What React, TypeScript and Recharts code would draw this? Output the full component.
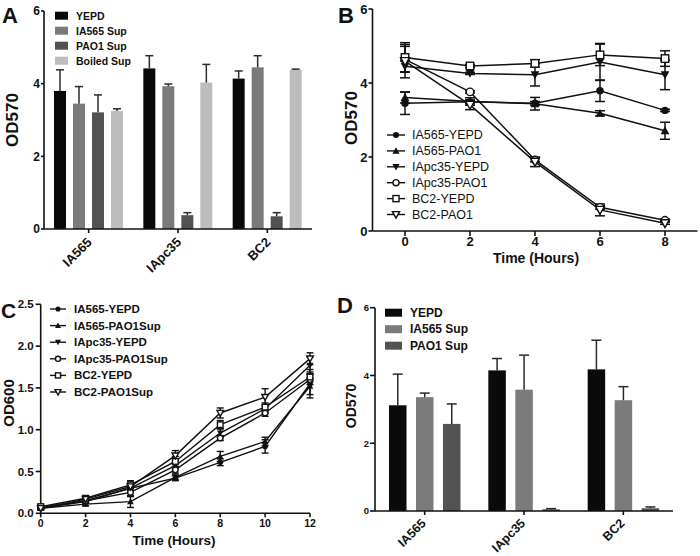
import React from 'react';
import { BarChart, Bar, XAxis, YAxis, LineChart, Line, ErrorBar } from 'recharts';

const FONT = '"Liberation Sans", Arial, Helvetica, sans-serif';
const INK = '#111';

// ---------- Panel A ----------
const groupsA = ['IA565', 'IApc35', 'BC2'];
const seriesA = ['YEPD', 'IA565 Sup', 'PAO1 Sup', 'Boiled Sup'];
const colorsA = ['#0a0a0a', '#7b7b7b', '#525252', '#bdbdbd'];
const yepdA = [3.8, 4.42, 4.14];
const yepdErrA = [0.58, 0.35, 0.21];
const ia565SupA = [3.45, 3.93, 4.45];
const ia565SupErrA = [0.47, 0.06, 0.32];
const pao1SupA = [3.21, 0.38, 0.35];
const pao1SupErrA = [0.48, 0.07, 0.1];
const boiledSupA = [3.25, 4.03, 4.38];
const boiledSupErrA = [0.06, 0.5, 0.02];
const yTicksA = [0, 2, 4, 6];

// ---------- Panel B ----------
const timesB = [0, 2, 4, 6, 8];
const seriesB = ['IA565-YEPD', 'IA565-PAO1', 'IApc35-YEPD', 'IApc35-PAO1', 'BC2-YEPD', 'BC2-PAO1'];
const ia565YepdB = [3.45, 3.49, 3.45, 3.79, 3.26];
const ia565YepdErrB = [0.3, 0.05, 0.05, 0.29, 0.03];
const ia565Pao1B = [3.61, 3.5, 3.44, 3.18, 2.71];
const ia565Pao1ErrB = [0.15, 0.1, 0.17, 0.07, 0.23];
const iapc35YepdB = [4.45, 4.26, 4.22, 4.57, 4.22];
const iapc35YepdErrB = [0.15, 0.03, 0.3, 0.5, 0.4];
const iapc35Pao1B = [4.64, 3.76, 1.92, 0.64, 0.29];
const iapc35Pao1ErrB = [0.35, 0.03, 0.05, 0.05, 0.03];
const bc2YepdB = [4.69, 4.46, 4.53, 4.76, 4.66];
const bc2YepdErrB = [0.4, 0.04, 0.1, 0.29, 0.21];
const bc2Pao1B = [4.59, 3.41, 1.87, 0.57, 0.21];
const bc2Pao1ErrB = [0.45, 0.13, 0.13, 0.16, 0.03];
const xTicksB = [0, 2, 4, 6, 8];
const yTicksB = [0, 2, 4, 6];

// ---------- Panel C ----------
const timesC = [0, 2, 4, 6, 8, 10, 12];
const seriesC = ['IA565-YEPD', 'IA565-PAO1Sup', 'IApc35-YEPD', 'IApc35-PAO1Sup', 'BC2-YEPD', 'BC2-PAO1Sup'];
const ia565YepdC = [0.07, 0.15, 0.3, 0.42, 0.61, 0.8, 1.55];
const ia565YepdErrC = [0.02, 0.02, 0.03, 0.03, 0.04, 0.08, 0.17];
const ia565Pao1C = [0.06, 0.11, 0.14, 0.43, 0.68, 0.86, 1.52];
const ia565Pao1ErrC = [0.02, 0.02, 0.07, 0.03, 0.06, 0.05, 0.1];
const iapc35YepdC = [0.06, 0.14, 0.3, 0.57, 0.96, 1.25, 1.77];
const iapc35YepdErrC = [0.01, 0.02, 0.03, 0.04, 0.05, 0.05, 0.1];
const iapc35Pao1C = [0.07, 0.15, 0.25, 0.52, 0.9, 1.2, 1.6];
const iapc35Pao1ErrC = [0.02, 0.03, 0.05, 0.04, 0.03, 0.04, 0.06];
const bc2YepdC = [0.08, 0.18, 0.34, 0.62, 1.06, 1.27, 1.63];
const bc2YepdErrC = [0.02, 0.03, 0.05, 0.06, 0.05, 0.05, 0.06];
const bc2Pao1C = [0.06, 0.17, 0.32, 0.69, 1.2, 1.39, 1.85];
const bc2Pao1ErrC = [0.02, 0.02, 0.05, 0.06, 0.06, 0.1, 0.07];
const xTicksC = [0, 2, 4, 6, 8, 10, 12];
const yTicksC = [0, 0.5, 1, 1.5, 2, 2.5];

// ---------- Panel D ----------
const groupsD = ['IA565', 'IApc35', 'BC2'];
const seriesD = ['YEPD', 'IA565 Sup', 'PAO1 Sup'];
const colorsD = ['#0a0a0a', '#7b7b7b', '#525252'];
const yepdD = [3.12, 4.15, 4.18];
const yepdErrD = [0.92, 0.35, 0.86];
const ia565SupD = [3.36, 3.58, 3.27];
const ia565SupErrD = [0.12, 1.02, 0.4];
const pao1SupD = [2.57, 0.05, 0.08];
const pao1SupErrD = [0.59, 0.02, 0.04];
const yTicksD = [0, 2, 4, 6];

const markerTypes = ['filledCircle', 'filledUp', 'filledDown', 'openCircle', 'openSquare', 'openDown'];

// ---------- data tables ----------
const rowsA = groupsA.map((g, i) => ({
  name: g,
  s0: yepdA[i], e0: yepdErrA[i],
  s1: ia565SupA[i], e1: ia565SupErrA[i],
  s2: pao1SupA[i], e2: pao1SupErrA[i],
  s3: boiledSupA[i], e3: boiledSupErrA[i],
}));
const valsB = [ia565YepdB, ia565Pao1B, iapc35YepdB, iapc35Pao1B, bc2YepdB, bc2Pao1B];
const errsB = [ia565YepdErrB, ia565Pao1ErrB, iapc35YepdErrB, iapc35Pao1ErrB, bc2YepdErrB, bc2Pao1ErrB];
const rowsB = timesB.map((t, i) => {
  const r: any = { t };
  valsB.forEach((v, k) => { r['s' + k] = v[i]; r['e' + k] = errsB[k][i]; });
  return r;
});
const valsC = [ia565YepdC, ia565Pao1C, iapc35YepdC, iapc35Pao1C, bc2YepdC, bc2Pao1C];
const errsC = [ia565YepdErrC, ia565Pao1ErrC, iapc35YepdErrC, iapc35Pao1ErrC, bc2YepdErrC, bc2Pao1ErrC];
const rowsC = timesC.map((t, i) => {
  const r: any = { t };
  valsC.forEach((v, k) => { r['s' + k] = v[i]; r['e' + k] = errsC[k][i]; });
  return r;
});
const rowsD = groupsD.map((g, i) => ({
  name: g,
  s0: yepdD[i], e0: yepdErrD[i],
  s1: ia565SupD[i], e1: ia565SupErrD[i],
  s2: pao1SupD[i], e2: pao1SupErrD[i],
}));

// ---------- helpers ----------
const makeErrShape = (errKey: string, capHalf: number) => (props: any) => {
  const { x, y, width, height, fill, payload, value } = props;
  const v = Array.isArray(value) ? value[1] - value[0] : value;
  const k = v ? height / v : 0;
  const e = payload ? payload[errKey] : 0;
  const cx = x + width / 2;
  const yt = y - e * k;
  return (
    <g>
      <rect x={x} y={y} width={width} height={height} fill={fill} />
      <line x1={cx} x2={cx} y1={y} y2={yt} stroke="#2b2b2b" strokeWidth={1.5} />
      <line x1={cx - capHalf} x2={cx + capHalf} y1={yt} y2={yt} stroke="#2b2b2b" strokeWidth={1.5} />
    </g>
  );
};

const Marker = ({ type, cx, cy, r }: { type: string; cx: number; cy: number; r: number }) => {
  const sw = 1.4;
  const up = `${cx},${cy - r} ${cx - r},${cy + r * 0.8} ${cx + r},${cy + r * 0.8}`;
  const down = `${cx},${cy + r} ${cx - r},${cy - r * 0.8} ${cx + r},${cy - r * 0.8}`;
  switch (type) {
    case 'filledCircle':
      return <circle cx={cx} cy={cy} r={r * 0.85} fill={INK} />;
    case 'filledUp':
      return <polygon points={up} fill={INK} />;
    case 'filledDown':
      return <polygon points={down} fill={INK} />;
    case 'openCircle':
      return <circle cx={cx} cy={cy} r={r * 0.85} fill="#fff" stroke={INK} strokeWidth={sw} />;
    case 'openSquare':
      return <rect x={cx - r * 0.85} y={cy - r * 0.85} width={r * 1.7} height={r * 1.7} fill="#fff" stroke={INK} strokeWidth={sw} />;
    case 'openDown':
      return <polygon points={down} fill="#fff" stroke={INK} strokeWidth={sw} />;
    default:
      return null;
  }
};

const makeDot = (type: string, r: number) => (p: any) => (
  <g key={`d-${type}-${p.index}`}>
    <Marker type={type} cx={p.cx} cy={p.cy} r={r} />
  </g>
);

const RotTick = (fontSize: number, dx: number, dy: number) => (props: any) => {
  const { x, y, payload } = props;
  const px = x + dx;
  const py = y + dy;
  return (
    <text x={px} y={py} transform={`rotate(-45 ${px} ${py})`} textAnchor="end" fill={INK}
      fontSize={fontSize} fontWeight="bold" fontFamily={FONT}>
      {payload.value}
    </text>
  );
};

const axisLine = { stroke: INK, strokeWidth: 1.6 };
const tickStyle = (fs: number) => ({ fill: INK, fontSize: fs, fontWeight: 'bold', fontFamily: FONT });

// ---------- panels ----------
const PanelA = () => (
  <BarChart width={350} height={280} data={rowsA} margin={{ top: 11, right: 38, bottom: 0, left: 0 }}
    barSize={12} barGap={7}>
    <XAxis dataKey="name" height={51} axisLine={axisLine} tickLine={axisLine} tickSize={4}
      interval={0} tick={RotTick(13, 4, 8)} />
    <YAxis width={44} domain={[0, 6]} ticks={yTicksA} axisLine={axisLine} tickLine={axisLine}
      tickSize={3} tickMargin={1} tick={tickStyle(12)} />
    {seriesA.map((s, k) => (
      <Bar key={s} dataKey={'s' + k} name={s} fill={colorsA[k]} isAnimationActive={false}
        shape={makeErrShape('e' + k, 4)} />
    ))}
  </BarChart>
);

const PanelB = () => (
  <LineChart width={350} height={280} data={rowsB} margin={{ top: 9, right: 2.5, bottom: 0, left: 0 }}>
    <XAxis dataKey="t" type="number" domain={[-1, 9]} ticks={xTicksB} height={49} axisLine={axisLine}
      tickLine={axisLine} tickSize={5} tickMargin={1} tick={tickStyle(13)} />
    <YAxis width={22.5} domain={[0, 6]} ticks={yTicksB} axisLine={axisLine} tickLine={axisLine}
      tickSize={4} tickMargin={1} tick={tickStyle(13)} />
    {seriesB.map((s, k) => (
      <Line key={s} dataKey={'s' + k} name={s} stroke={INK} strokeWidth={1.5} isAnimationActive={false}
        dot={makeDot(markerTypes[k], 4.4)} activeDot={false}>
        <ErrorBar dataKey={'e' + k} width={5} stroke={INK} strokeWidth={1.5} direction="y" />
      </Line>
    ))}
  </LineChart>
);

const PanelC = () => (
  <LineChart width={350} height={276} data={rowsC} margin={{ top: 24.3, right: 40, bottom: 0, left: 0 }}>
    <XAxis dataKey="t" type="number" domain={[0, 12]} ticks={xTicksC} height={42.7} axisLine={axisLine}
      tickLine={axisLine} tickSize={4} tickMargin={2} tick={tickStyle(10.5)} />
    <YAxis width={40.7} domain={[0, 2.5]} ticks={yTicksC} axisLine={axisLine} tickLine={axisLine}
      tickSize={5} tickMargin={2} tick={tickStyle(11.5)} tickFormatter={(v: number) => v.toFixed(1)} />
    {seriesC.map((s, k) => (
      <Line key={s} dataKey={'s' + k} name={s} stroke={INK} strokeWidth={1.4} isAnimationActive={false}
        dot={makeDot(markerTypes[k], 3.3)} activeDot={false}>
        <ErrorBar dataKey={'e' + k} width={3.5} stroke={INK} strokeWidth={1.4} direction="y" />
      </Line>
    ))}
  </LineChart>
);

const PanelD = () => (
  <BarChart width={350} height={276} data={rowsD} margin={{ top: 27.7, right: 27, bottom: 0, left: 0 }}
    barSize={17.5} barGap={9.5}>
    <XAxis dataKey="name" height={45} axisLine={axisLine} tickLine={axisLine} tickSize={4}
      interval={0} tick={RotTick(12.5, 2, 7)} />
    <YAxis width={25} domain={[0, 6]} ticks={yTicksD} axisLine={axisLine} tickLine={axisLine}
      tickSize={5} tickMargin={1} tick={tickStyle(9.5)} />
    {seriesD.map((s, k) => (
      <Bar key={s} dataKey={'s' + k} name={s} fill={colorsD[k]} isAnimationActive={false}
        shape={makeErrShape('e' + k, 5)} />
    ))}
  </BarChart>
);

const txt = (extra: any) => ({ fill: INK, fontFamily: FONT, fontWeight: 'bold', ...extra });

const Overlay = () => {
  const legA = seriesA.map((s, i) => (
    <g key={'la' + i}>
      <rect x={55} y={15.7 + i * 15 - 4} width={13} height={8} fill={colorsA[i]} />
      <text x={76} y={15.7 + i * 15} dominantBaseline="central" {...txt({ fontSize: 10.5 })}>{s}</text>
    </g>
  ));
  const legB = seriesB.map((s, i) => {
    const y = 135 + i * 15.9;
    return (
      <g key={'lb' + i}>
        <line x1={387} x2={405} y1={y} y2={y} stroke={INK} strokeWidth={1.4} />
        <Marker type={markerTypes[i]} cx={396} cy={y} r={3.6} />
        <text x={412} y={y} dominantBaseline="central" fill={INK} fontFamily={FONT} fontSize={12.5}>{s}</text>
      </g>
    );
  });
  const legC = seriesC.map((s, i) => {
    const y = 309 + i * 16.6;
    return (
      <g key={'lc' + i}>
        <line x1={50} x2={66} y1={y} y2={y} stroke={INK} strokeWidth={1.4} />
        <Marker type={markerTypes[i]} cx={58} cy={y} r={3} />
        <text x={74} y={y} dominantBaseline="central" {...txt({ fontSize: 11.5 })}>{s}</text>
      </g>
    );
  });
  const legD = seriesD.map((s, i) => {
    const y = 312.7 + i * 16.5;
    return (
      <g key={'ld' + i}>
        <rect x={385} y={y - 4} width={17} height={8} fill={colorsD[i]} />
        <text x={410} y={y} dominantBaseline="central" {...txt({ fontSize: 12 })}>{s}</text>
      </g>
    );
  });
  return (
    <svg width={700} height={556} style={{ position: 'absolute', left: 0, top: 0, pointerEvents: 'none' }}>
      <text x={2} y={23} {...txt({ fontSize: 22 })}>A</text>
      <text x={338} y={23} {...txt({ fontSize: 22 })}>B</text>
      <text x={1} y={318} {...txt({ fontSize: 21 })}>C</text>
      <text x={337} y={313} {...txt({ fontSize: 22 })}>D</text>
      <text transform="translate(12,120) rotate(-90)" textAnchor="middle" dominantBaseline="central" {...txt({ fontSize: 17 })}>OD570</text>
      <text transform="translate(351,118) rotate(-90)" textAnchor="middle" dominantBaseline="central" {...txt({ fontSize: 17 })}>OD570</text>
      <text transform="translate(8,403) rotate(-90)" textAnchor="middle" dominantBaseline="central" {...txt({ fontSize: 15 })}>OD600</text>
      <text transform="translate(351,406) rotate(-90)" textAnchor="middle" dominantBaseline="central" {...txt({ fontSize: 14 })}>OD570</text>
      <text x={536} y={258} textAnchor="middle" dominantBaseline="central" {...txt({ fontSize: 14 })}>Time (Hours)</text>
      <text x={174} y={540} textAnchor="middle" dominantBaseline="central" {...txt({ fontSize: 13.5 })}>Time (Hours)</text>
      {legA}
      {legB}
      {legC}
      {legD}
    </svg>
  );
};

export default function App() {
  return (
    <div style={{ position: 'absolute', left: 0, top: 0, width: 700, height: 556, background: '#fff', overflow: 'hidden', fontFamily: FONT }}>
      <div style={{ position: 'absolute', left: 0, top: 0 }}><PanelA /></div>
      <div style={{ position: 'absolute', left: 350, top: 0 }}><PanelB /></div>
      <div style={{ position: 'absolute', left: 0, top: 280 }}><PanelC /></div>
      <div style={{ position: 'absolute', left: 350, top: 280 }}><PanelD /></div>
      <Overlay />
    </div>
  );
}
